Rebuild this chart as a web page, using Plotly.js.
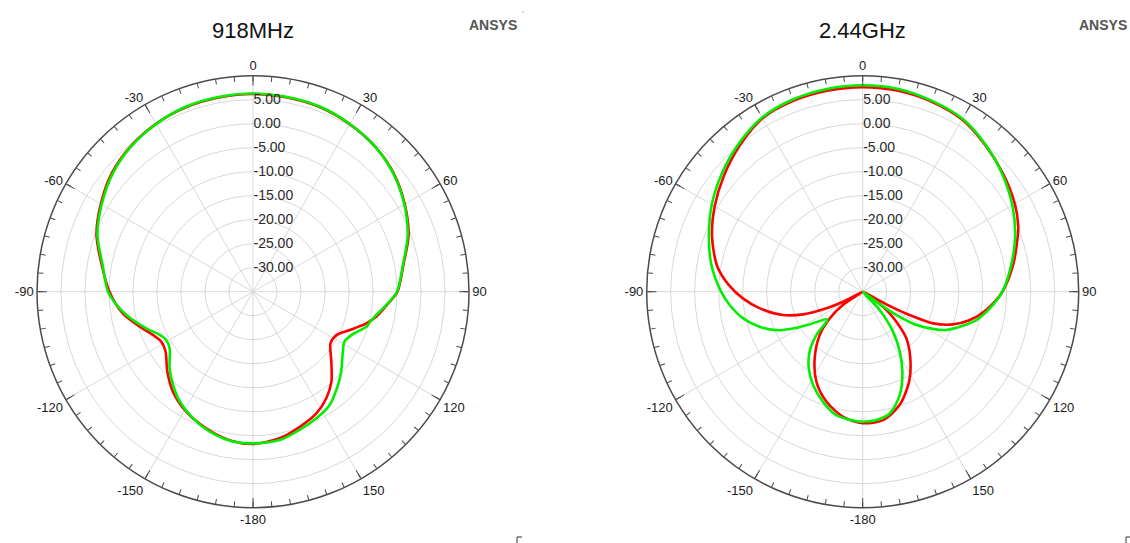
<!DOCTYPE html>
<html>
<head>
<meta charset="utf-8">
<script src="https://cdn.plot.ly/plotly-3.0.1.min.js"></script>
<style>
  html, body { margin: 0; padding: 0; background: #ffffff; }
  #chart { width: 1130px; height: 543px; }
</style>
</head>
<body>
<div id="chart"></div>
<script>
// ---------- data (angle in degrees, gain in dB) ----------
const theta918Red = [-180, -172, -161.2, -150.9, -141.3, -133, -124.5, -118.6, -113.4, -107.2, -99.5, -90, -80, -70, -60, -50, -40, -30, -20, -10, 0, 10, 20, 30, 40, 50, 60, 70, 80, 90, 95.7, 101.5, 105.6, 111.6, 117.5, 123.6, 131.8, 139, 145.5, 152.5, 160.9, 169.7, 180];
const gain918Red  = [-3.3, -3.6, -4.9, -6.4, -8.3, -10.6, -12.9, -13.25, -12.3, -10.3, -7.5, -5.1, -3.0, -0.3, 1.6, 3.4, 4.6, 5.4, 5.9, 6.1, 6.2, 6.1, 5.9, 5.3, 4.5, 3.3, 1.5, -0.5, -3.2, -4.9, -7.0, -8.8, -10.5, -13.3, -15.4, -15.6, -13.1, -10.1, -8.05, -6.4, -5.2, -3.95, -3.3];

const theta918Green = [-180, -172.4, -162.8, -154.7, -146.3, -139.4, -132.6, -124.2, -119.1, -114.9, -109, -103.3, -97.1, -90, -80, -70, -60, -50, -40, -30, -20, -10, 0, 10, 20, 30, 40, 50, 60, 70, 80, 90, 95.7, 102.5, 107.2, 113.8, 118.6, 123.7, 132.2, 137.7, 145.9, 153.4, 161.4, 169.8, 180];
const gain918Green  = [-3.4, -3.5, -4.5, -5.8, -7.5, -9.4, -11.4, -14.0, -14.3, -13.6, -11.5, -9.3, -7.0, -4.8, -3.2, -0.5, 1.4, 3.2, 4.5, 5.35, 6.0, 6.2, 6.3, 6.2, 6.0, 5.35, 4.5, 3.2, 1.4, -0.7, -3.3, -5.0, -7.1, -9.4, -10.3, -12.6, -13.3, -12.5, -10.2, -8.7, -6.5, -5.5, -4.6, -3.6, -3.4];

const theta244Red = [-180, -171.1, -161.7, -152.8, -144.2, -135.2, -129, -124, -120, -117, -114.6, -110.8, -106.3, -99.2, -93.2, -87, -80, -70, -60, -50, -40, -30, -20, -10, 0, 10, 20, 30, 40, 50, 60, 67, 70, 80, 90, 98.4, 104.8, 109.9, 114.2, 116.4, 117.8, 121, 124.5, 128, 131.7, 136.9, 143.9, 152.5, 161.9, 171, 180];
const gain244Red  = [-7.6, -8.6, -10.9, -13.9, -17.9, -22.3, -26.2, -30.0, -35, -30.4, -26.7, -21.7, -17.7, -13.3, -10.0, -7.0, -4.2, -1.6, 0.6, 2.7, 4.8, 6.7, 7.3, 7.5, 7.6, 7.5, 7.1, 6.4, 4.8, 3.2, 1.6, 0.2, -0.6, -3.2, -5.9, -9.0, -11.9, -15.0, -18.9, -24.1, -28.7, -35, -31.5, -28.5, -25.6, -21.7, -18.2, -14.0, -10.2, -7.9, -7.6];

const theta244Green = [-180, -177.2, -167.9, -160.2, -152, -144.8, -138.5, -133.1, -128, -121.6, -117.8, -114, -108.8, -102.6, -95.7, -90, -80, -70, -60, -50, -40, -30, -20, -10, 0, 10, 20, 30, 40, 50, 60, 70, 80, 90, 97.5, 104, 109.8, 115, 118, 121.8, 124.7, 126.5, 132, 137, 142.8, 148.3, 153.6, 160.3, 167.5, 173.9, 180];
const gain244Green  = [-7.9, -8.0, -8.7, -10.6, -13.0, -15.5, -18.3, -21.8, -25.7, -22.0, -18.6, -15.3, -12.3, -9.5, -7.15, -5.5, -3.0, -0.9, 1.3, 3.3, 5.2, 6.9, 7.6, 7.9, 8.0, 7.9, 7.3, 6.6, 4.9, 3.0, 1.0, -1.2, -3.6, -5.9, -8.3, -10.6, -13.5, -16.1, -18.5, -21.8, -26.5, -31.5, -35, -30.0, -24.5, -20.3, -16.4, -12.1, -9.0, -8.1, -7.9];

// ---------- axis ticks / labels ----------
const majorAngles = [0, 30, 60, 90, 120, 150, 180, 210, 240, 270, 300, 330];
const majorLabels = ["0", "30", "60", "90", "120", "150", "-180", "-150", "-120", "-90", "-60", "-30"];
const minorAngles = [0, 5, 10, 15, 20, 25, 30, 35, 40, 45, 50, 55, 60, 65, 70, 75, 80, 85, 90, 95, 100, 105, 110, 115, 120, 125, 130, 135, 140, 145, 150, 155, 160, 165, 170, 175, 180, 185, 190, 195, 200, 205, 210, 215, 220, 225, 230, 235, 240, 245, 250, 255, 260, 265, 270, 275, 280, 285, 290, 295, 300, 305, 310, 315, 320, 325, 330, 335, 340, 345, 350, 355];
const dbTicks  = [-30, -25, -20, -15, -10, -5, 0, 5];
const dbLabels = ["-30.00", "-25.00", "-20.00", "-15.00", "-10.00", "-5.00", "0.00", "5.00"];
const chartTitles = ["918MHz", "2.44GHz"];

// ---------- styling ----------
const FONT = "Arial, 'Liberation Sans', sans-serif";
const RED = "#ff0000", GREEN = "#00ee00";
const W = 1130, H = 543;
const R = 216;
const centers = [[253, 291.7], [862.7, 291.7]];
function dom(c) {
  return {
    x: [(c[0] - R) / W, (c[0] + R) / W],
    y: [1 - (c[1] + R) / H, 1 - (c[1] - R) / H]
  };
}

function mainPolar(c) {
  return {
    domain: dom(c),
    bgcolor: "#ffffff",
    angularaxis: {
      rotation: 90, direction: "clockwise",
      tickmode: "array", tickvals: majorAngles, ticktext: majorLabels,
      ticks: "inside", ticklen: 9, tickwidth: 1, tickcolor: "#4a4a4a",
      showline: true, linecolor: "#4a4a4a", linewidth: 1.5,
      showgrid: true, gridcolor: "#d8d8d8", gridwidth: 1,
      tickfont: { family: FONT, size: 13, color: "#1a1a1a" }
    },
    radialaxis: {
      range: [-35, 10], angle: 90, side: "clockwise",
      tickmode: "array", tickvals: dbTicks, ticktext: dbLabels,
      ticks: "", showline: false,
      showgrid: true, gridcolor: "#d8d8d8", gridwidth: 1,
      tickangle: 90,
      tickfont: { family: FONT, size: 14, color: "#2a2a2a" }
    }
  };
}
function minorPolar(c) {
  return {
    domain: dom(c),
    bgcolor: "rgba(0,0,0,0)",
    angularaxis: {
      rotation: 90, direction: "clockwise",
      tickmode: "array", tickvals: minorAngles,
      ticks: "inside", ticklen: 5, tickwidth: 1, tickcolor: "#4a4a4a",
      showticklabels: false, showline: false, showgrid: false
    },
    radialaxis: { range: [-35, 10], visible: false }
  };
}

function curve(theta, r, color, subplot) {
  return {
    type: "scatterpolar", mode: "lines", subplot: subplot,
    theta: theta, r: r,
    line: { color: color, width: 2.6, shape: "spline", smoothing: 0.8 },
    hoverinfo: "skip", showlegend: false
  };
}

const data = [
  curve(theta918Red, gain918Red, RED, "polar"),
  curve(theta918Green, gain918Green, GREEN, "polar"),
  curve(theta244Red, gain244Red, RED, "polar2"),
  curve(theta244Green, gain244Green, GREEN, "polar2"),
  { type: "scatterpolar", subplot: "polar3", r: [], theta: [], mode: "lines", showlegend: false, hoverinfo: "skip" },
  { type: "scatterpolar", subplot: "polar4", r: [], theta: [], mode: "lines", showlegend: false, hoverinfo: "skip" }
];

const annotations = [
  { text: chartTitles[0], x: 253 / W, y: 1 - 31 / H, xref: "paper", yref: "paper", showarrow: false, xanchor: "center", yanchor: "middle", font: { family: FONT, size: 22, color: "#111111" } },
  { text: chartTitles[1], x: 862 / W, y: 1 - 31 / H, xref: "paper", yref: "paper", showarrow: false, xanchor: "center", yanchor: "middle", font: { family: FONT, size: 22, color: "#111111" } },
  { text: "<b>ANSYS</b>", x: 493 / W, y: 1 - 25 / H, xref: "paper", yref: "paper", showarrow: false, xanchor: "center", yanchor: "middle", font: { family: FONT, size: 14, color: "#555555" } },
  { text: "<b>ANSYS</b>", x: 1103 / W, y: 1 - 25 / H, xref: "paper", yref: "paper", showarrow: false, xanchor: "center", yanchor: "middle", font: { family: FONT, size: 14, color: "#555555" } }
];

function px(x) { return x / W; }
function py(y) { return 1 - y / H; }
const shapes = [
  { type: "line", xref: "paper", yref: "paper", x0: px(517), y0: py(537), x1: px(522), y1: py(537), line: { color: "#333", width: 1 } },
  { type: "line", xref: "paper", yref: "paper", x0: px(517), y0: py(537), x1: px(517), y1: py(543), line: { color: "#333", width: 1 } },
  { type: "line", xref: "paper", yref: "paper", x0: px(1126), y0: py(537), x1: px(1130), y1: py(537), line: { color: "#333", width: 1 } },
  { type: "line", xref: "paper", yref: "paper", x0: px(1126), y0: py(537), x1: px(1126), y1: py(543), line: { color: "#333", width: 1 } },
  { type: "rect", xref: "paper", yref: "paper", x0: px(522.5), y0: py(11.5), x1: px(523.5), y1: py(12.5), line: { width: 0 }, fillcolor: "#555" }
];

const layout = {
  width: W, height: H,
  margin: { l: 0, r: 0, t: 0, b: 0 },
  paper_bgcolor: "#ffffff",
  showlegend: false,
  polar: mainPolar(centers[0]),
  polar2: mainPolar(centers[1]),
  polar3: minorPolar(centers[0]),
  polar4: minorPolar(centers[1]),
  annotations: annotations,
  shapes: shapes
};

Plotly.newPlot("chart", data, layout, { staticPlot: true, displayModeBar: false });
</script>
</body>
</html>
